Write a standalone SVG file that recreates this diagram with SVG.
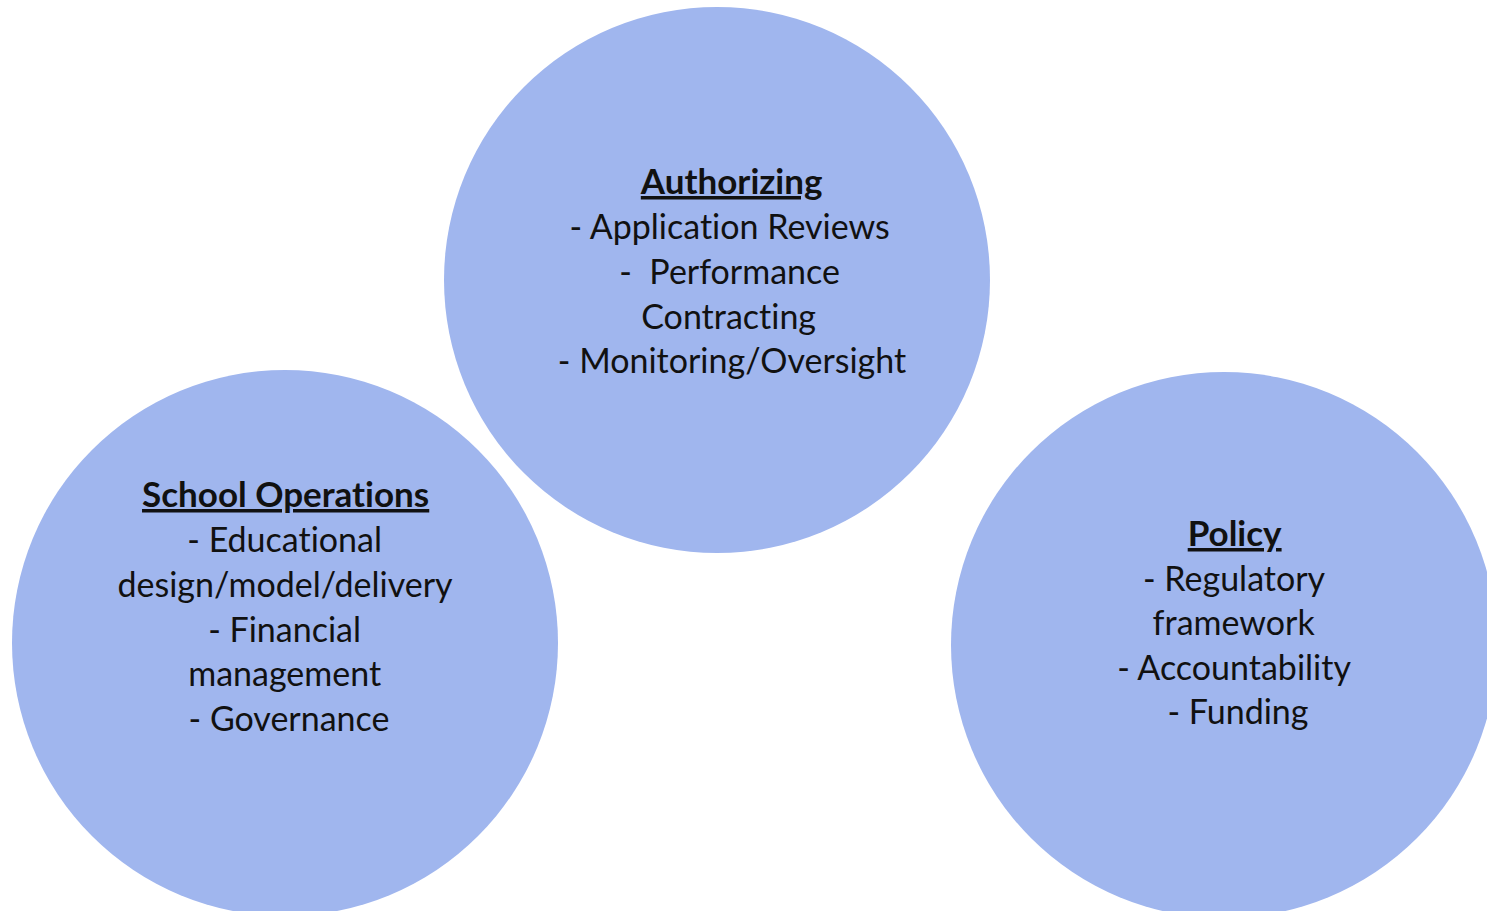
<svg xmlns="http://www.w3.org/2000/svg" width="1487" height="911" viewBox="0 0 1487 911">
  <style>
    .bubble { fill: #a0b6ee; }
    .label { font-family: Lato, "Open Sans", "Liberation Sans", sans-serif; font-size: 34px; fill: #111111; text-anchor: middle; font-variant-ligatures: none; }
    .title { font-weight: bold; text-decoration: underline; font-size: 35px; }
  </style>
  <rect width="1487" height="911" fill="#ffffff"/>

  <g id="authorizing">
    <circle class="bubble" cx="717" cy="280" r="273"/>
    <text class="label">
      <tspan class="title" x="736" y="194">Authorizing</tspan>
      <tspan x="734" y="239">- Application Reviews</tspan>
      <tspan x="734" y="284">-&#160; Performance</tspan>
      <tspan x="733" y="329">Contracting</tspan>
      <tspan x="732" y="373">- Monitoring/Oversight</tspan>
    </text>
  </g>

  <g id="school-operations">
    <circle class="bubble" cx="285" cy="643" r="273"/>
    <text class="label">
      <tspan class="title" x="290" y="507">School Operations</tspan>
      <tspan x="289" y="552">- Educational</tspan>
      <tspan x="289" y="597">design/model/delivery</tspan>
      <tspan x="289" y="642">- Financial</tspan>
      <tspan x="289" y="686">management</tspan>
      <tspan x="289" y="731">- Governance</tspan>
    </text>
  </g>

  <g id="policy">
    <circle class="bubble" cx="1224" cy="645" r="273"/>
    <text class="label">
      <tspan class="title" x="1239" y="546">Policy</tspan>
      <tspan x="1238" y="591">- Regulatory</tspan>
      <tspan x="1238" y="635">framework</tspan>
      <tspan x="1238" y="680">- Accountability</tspan>
      <tspan x="1238" y="724">- Funding</tspan>
    </text>
  </g>

  <g id="connectors"></g>
</svg>
